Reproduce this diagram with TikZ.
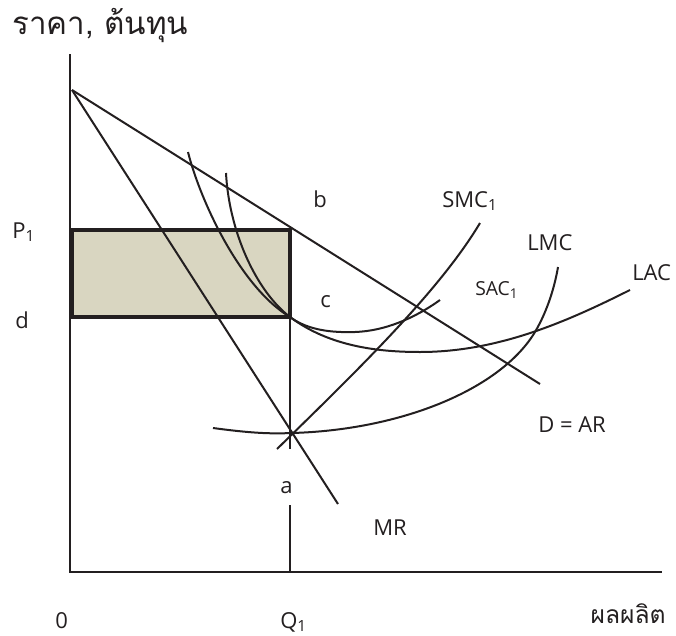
\documentclass[tikz,border=0pt]{standalone}
\usepackage{fontspec}
\setmainfont{Open Sans}
\newfontfamily\thaifont[Script=Thai]{Loma}
\definecolor{ink}{HTML}{231F20}
\definecolor{boxfill}{HTML}{D9D6C1}
\begin{document}
\begin{tikzpicture}[x=0.75pt,y=-0.75pt,
  curve/.style={draw=ink,line width=1.5pt},
  axis/.style={draw=ink,line width=1.3pt},
  lbl/.style={anchor=base west,inner sep=0pt,text=ink,font=\fontsize{16.5}{18}\selectfont},
  smalllbl/.style={anchor=base west,inner sep=0pt,text=ink,font=\fontsize{14.5}{16}\selectfont},
  thai/.style={anchor=base west,inner sep=0pt,text=ink,font=\thaifont\fontsize{23.5}{26}\selectfont},
  thaismall/.style={anchor=base east,inner sep=0pt,text=ink,font=\thaifont\fontsize{18.5}{22}\selectfont}]
\useasboundingbox (0,0) rectangle (676,636);
% coordinates
\coordinate (O) at (70,572);
\coordinate (ytop) at (70,54);
\coordinate (xend) at (662,572);
\coordinate (dtop) at (72,90);
\coordinate (dend) at (540,384);
\coordinate (mrend) at (338,504);
\coordinate (rectbl) at (72,317);
\coordinate (rectb) at (290,230);
\coordinate (cpt) at (290,317);
\coordinate (apt) at (292,433);
\coordinate (q1top) at (290,449);
\coordinate (q1low) at (290,505);
\coordinate (q1) at (290,572);
% rectangle
\fill[boxfill] (rectbl) rectangle (rectb);
% axes
\draw[axis] (ytop) -- (O) -- (xend);
% Q1 vertical
\draw[axis] (cpt) -- (q1top);
\draw[axis] (q1low) -- (q1);
% D and MR
\draw[curve] (dtop) -- (dend);
\draw[curve] (dtop) -- (mrend);
% LAC
\draw[curve] (188,152) .. controls (200,200) and (240,287) .. (cpt)
  .. controls (330,347) and (380,352) .. (420,352)
  .. controls (500,352) and (570,320) .. (630,290);
% SAC1
\draw[curve] (226,173) .. controls (229,230) and (255,290) .. (cpt)
  .. controls (305,328) and (325,333) .. (355,332)
  .. controls (385,331) and (415,318) .. (440,300);
% LMC
\draw[curve] (213,428) .. controls (250,433) and (270,434) .. (apt)
  .. controls (400,430) and (500,390) .. (535,332)
  .. controls (548,310) and (555,285) .. (558,267);
% SMC1
\draw[curve] (277,449) .. controls (360,368) and (440,290) .. (480,223);
% rectangle border
\draw[draw=ink,line width=3.2pt] (rectbl) rectangle (rectb);
% labels
\node[thai] (ttl) at (12,34) {ราคา, ต้นทุน};
\node[thaismall] (tout) at (666,623) {ผลผลิต};
\node[lbl] (lp1) at (12,238) {P\textsubscript{1}};
\node[lbl] (ld) at (15,328) {d};
\node[lbl] (lb) at (313,207) {b};
\node[lbl] (lc) at (320,307) {c};
\node[lbl] (lsmc) at (442,207) {SMC\textsubscript{1}};
\node[lbl] (llmc) at (527,250) {LMC};
\node[lbl] (llac) at (632,280) {LAC};
\node[smalllbl] (lsac) at (475,295) {SAC\textsubscript{1}};
\node[lbl] (lar) at (538,432) {D = AR};
\node[lbl] (la) at (280,493) {a};
\node[lbl] (lmr) at (373,535) {MR};
\node[lbl] (l0) at (55,628) {0};
\node[lbl] (lq) at (280,628) {Q\textsubscript{1}};
\end{tikzpicture}
\end{document}
